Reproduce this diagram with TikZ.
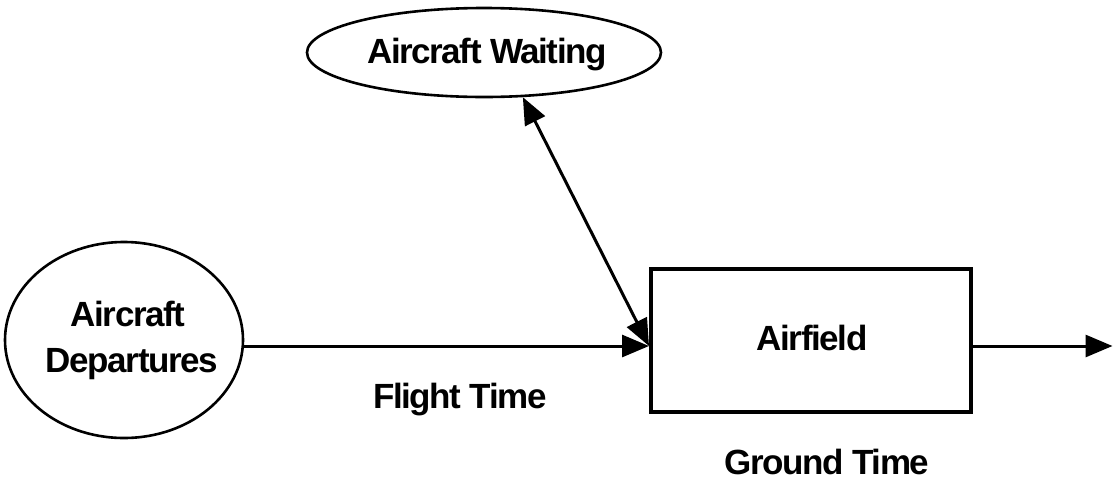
\documentclass[tikz,border=0pt]{standalone}
\usepackage{fontspec}
\setmainfont{Liberation Sans}[LetterSpace=-4]
\usetikzlibrary{shapes.geometric,arrows.meta}
\begin{document}
\begin{tikzpicture}[x=1pt,y=-1pt,
  lbl/.style={font=\fontsize{35}{46}\selectfont\bfseries, inner sep=0pt, anchor=base},
  oval/.style={ellipse, draw, line width=2.6pt, inner sep=0pt},
  boxnode/.style={rectangle, draw, line width=4pt, inner sep=0pt},
  arr/.style={line width=3pt, -{Triangle[length=27pt,width=22pt]}},
  darr/.style={line width=3pt, {Triangle[length=27pt,width=22pt]}-{Triangle[length=27pt,width=22pt]}}]
\useasboundingbox (0,0) rectangle (1113,480);
\node[oval, minimum width=354pt, minimum height=89pt] (wait) at (484,52.5) {};
\node[oval, minimum width=238pt, minimum height=196pt] (dep) at (124,340) {};
\node[boxnode, minimum width=320pt, minimum height=143pt] (air) at (811,340.5) {};
\node[lbl] (waitt) at (487,63) {Aircraft Waiting};
\node[lbl] (dept1) at (128,326) {Aircraft};
\node[lbl] (dept2) at (132,372) {Departures};
\node[lbl] (airt) at (812,350) {Airfield};
\node[lbl] (ft) at (460,408) {Flight Time};
\node[lbl] (gt) at (827,474) {Ground Time};
\coordinate (in) at (air.west |- 0,346);
\coordinate (out) at (1112.5,346);
\draw[arr] (dep.east |- in) -- (in);
\draw[darr] (wait.-49.5) -- (in);
\draw[arr] (air.east |- in) -- (out);
\end{tikzpicture}
\end{document}
